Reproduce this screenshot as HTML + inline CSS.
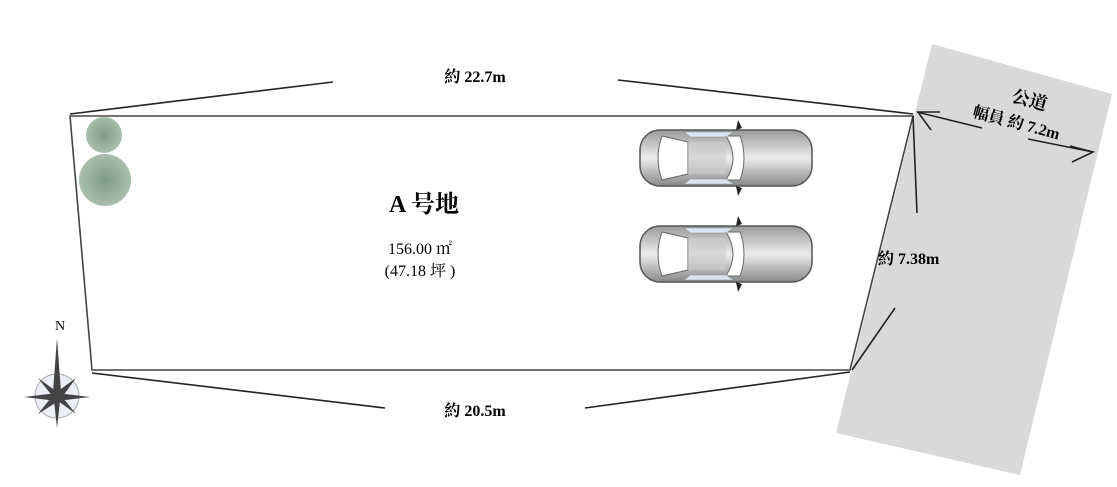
<!DOCTYPE html>
<html><head><meta charset="utf-8"><style>
body{margin:0;background:#fff;}
svg{display:block;font-family:"Liberation Serif","Noto Serif CJK SC",serif;font-weight:bold;}
</style></head><body>
<svg width="1117" height="487" viewBox="0 0 1117 487">
<defs>
<radialGradient id="tr" cx="50%" cy="50%" r="50%"><stop offset="0" stop-color="#7f9a86"/><stop offset="1" stop-color="#aabfae"/></radialGradient>
<linearGradient id="cb" x1="0" y1="0" x2="0" y2="1"><stop offset="0" stop-color="#999"/><stop offset=".5" stop-color="#eee"/><stop offset="1" stop-color="#888"/></linearGradient>
<g id="car">
<rect x="0" y="6" width="172" height="56" rx="20" fill="url(#cb)" stroke="#555" stroke-width="1.5"/>
<path d="M98 -4 l4 8 l-6 2z M98 72 l4 -8 l-6 -2z" fill="#222"/>
<path d="M22 12 q-8 22 0 44 l26 -6 l0 -32z" fill="#fff" stroke="#666"/>
<path d="M86 12 q14 22 0 44 l14 0 q8 -22 0 -44z" fill="#fff" stroke="#666"/>
<rect x="48" y="18" width="38" height="32" fill="#ccc" opacity=".6"/>
<path d="M44 8 h50 l-8 5 h-36z M44 60 h50 l-8 -5 h-36z" fill="#d7e6f0" stroke="#888" stroke-width=".6"/>
</g>
</defs>
<polygon points="932,44 1112,94 1020,475 836,433" fill="#d9d9d9"/>
<polygon points="70,116 913,116 850,370 92,370" fill="none" stroke="#444" stroke-width="1.6"/>
<g stroke="#222" stroke-width="1.6" fill="none">
<line x1="70" y1="114" x2="333" y2="82"/><line x1="618" y1="80" x2="913" y2="114"/>
<line x1="92" y1="373" x2="385" y2="408"/><line x1="585" y1="408" x2="850" y2="372"/>
<line x1="913" y1="116" x2="917" y2="213"/><line x1="895" y1="308" x2="852" y2="370"/>
<line x1="917" y1="112" x2="982" y2="128"/><line x1="1028" y1="139" x2="1093" y2="152"/>
<polyline points="931,130 918,112 940,112"/><polyline points="1072,162 1093,152 1070,146"/>
</g>
<text x="475" y="82" font-size="16" text-anchor="middle">約 22.7m</text>
<text x="475" y="416" font-size="16" text-anchor="middle">約 20.5m</text>
<text x="878" y="264" font-size="16">約 7.38m</text>
<text x="1028" y="106" font-size="18" text-anchor="middle" transform="rotate(15 1028 106)">公道</text>
<text x="1015" y="128" font-size="16" text-anchor="middle" transform="rotate(15 1015 128)">幅員 約 7.2m</text>
<text x="424" y="212" font-size="24" text-anchor="middle">A 号地</text>
<text x="420" y="254" font-size="16" text-anchor="middle" font-weight="normal">156.00 ㎡</text>
<text x="420" y="276" font-size="16" text-anchor="middle" font-weight="normal">(47.18 坪 )</text>
<circle cx="104" cy="135" r="18" fill="url(#tr)"/>
<circle cx="105" cy="180" r="26" fill="url(#tr)"/>
<use href="#car" x="640" y="124"/>
<use href="#car" x="640" y="220"/>
<text x="60" y="330" font-size="14" font-weight="normal" text-anchor="middle">N</text>
<circle cx="57" cy="396" r="22" fill="#eceef5" stroke="#aaa"/>
<g fill="#444">
<polygon points="57,338 61,392 57,428 53,392"/>
<polygon points="24,397 57,393 90,397 57,401"/>
<polygon points="38,378 60,394 76,414 54,398"/>
<polygon points="76,378 60,400 38,414 54,394"/>
</g>
</svg>
</body></html>
